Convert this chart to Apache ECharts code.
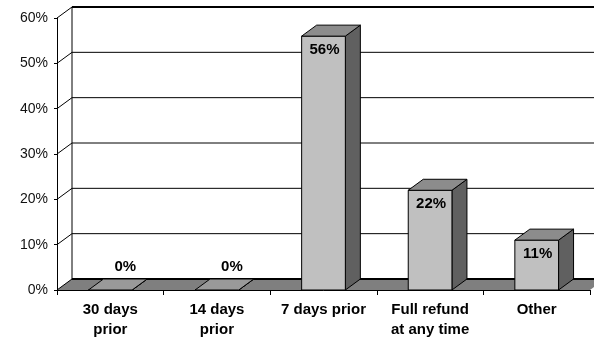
<!DOCTYPE html>
<html>
<head>
<meta charset="utf-8">
<script src="https://cdn.jsdelivr.net/npm/echarts@6/dist/echarts.min.js"></script>
<style>
  html, body { margin: 0; padding: 0; background: #ffffff; }
  #chart { width: 594px; height: 337px; }
</style>
</head>
<body>
<div id="chart"></div>
<script>
// Refund policy shares (percent of respondents)
const categories = ['30 days\nprior', '14 days\nprior', '7 days prior', 'Full refund\nat any time', 'Other'];
const shares = [0, 0, 56, 22, 11];
const yTicks = [0, 10, 20, 30, 40, 50, 60];

// oblique projection offset for the "depth" of the box
const DEPTH_X = 15;
const DEPTH_Y = -11;
const FONT = 'Arial, "Liberation Sans", Helvetica, sans-serif';

const chart = echarts.init(document.getElementById('chart'), null, { renderer: 'canvas' });

// back wall gridlines, their slanted connectors to the front axis, and the floor
function renderWall(params, api) {
  const v = api.value(1);
  const cs = params.coordSys;
  const left = cs.x;
  const right = cs.x + cs.width;
  const y = api.coord([0, v])[1];
  const children = [];

  if (params.dataIndex === 0) {
    const topY = api.coord([0, yTicks[yTicks.length - 1]])[1];
    children.push({
      type: 'polygon',
      shape: { points: [[left, y], [right, y], [right + DEPTH_X, y + DEPTH_Y], [left + DEPTH_X, y + DEPTH_Y]] },
      style: { fill: '#7f7f7f', stroke: null }
    });
    children.push({
      type: 'line',
      shape: { x1: left + DEPTH_X, y1: topY + DEPTH_Y, x2: left + DEPTH_X, y2: y + DEPTH_Y },
      style: { stroke: '#000', lineWidth: 1 }
    });
  }
  const thick = params.dataIndex === 0 || params.dataIndex === yTicks.length - 1;
  children.push({
    type: 'line',
    shape: { x1: left + DEPTH_X, y1: y + DEPTH_Y, x2: right + DEPTH_X, y2: y + DEPTH_Y },
    style: { stroke: '#000', lineWidth: thick ? 2 : 1 }
  });
  children.push({
    type: 'line',
    shape: { x1: left, y1: y, x2: left + DEPTH_X, y2: y + DEPTH_Y },
    style: { stroke: '#000', lineWidth: 1 }
  });
  return { type: 'group', children: children };
}

// 3D-looking columns: front face, top face, right side face and value label
function renderBar(params, api) {
  const idx = api.value(0);
  const v = api.value(1);
  const base = api.coord([idx, 0]);
  const top = api.coord([idx, v]);
  const band = api.size([1, 0])[0];
  const w = band * 0.41;
  const xl = base[0] - w / 2;
  const xr = base[0] + w / 2;
  const yb = base[1];
  const yt = top[1];
  const stroke = { stroke: '#000', lineWidth: 1 };
  const children = [
    {
      type: 'polygon',
      shape: { points: [[xr, yt], [xr, yb], [xr + DEPTH_X, yb + DEPTH_Y], [xr + DEPTH_X, yt + DEPTH_Y]] },
      style: Object.assign({ fill: '#606060' }, stroke)
    },
    {
      type: 'rect',
      shape: { x: xl, y: yt, width: w, height: yb - yt },
      style: Object.assign({ fill: '#c0c0c0' }, stroke)
    },
    {
      type: 'polygon',
      shape: { points: [[xl, yt], [xr, yt], [xr + DEPTH_X, yt + DEPTH_Y], [xl + DEPTH_X, yt + DEPTH_Y]] },
      style: Object.assign({ fill: v > 0 ? '#8c8c8c' : '#999999' }, stroke)
    }
  ];
  const lx = v > 0 ? base[0] + 1 : base[0] + DEPTH_X;
  const ly = v > 0 ? yt + 14 : yt - 23;
  children.push({
    type: 'text',
    x: lx,
    y: ly,
    style: {
      text: v + '%',
      fill: '#000',
      font: 'bold 15px ' + FONT,
      textAlign: 'center',
      textVerticalAlign: 'middle'
    }
  });
  return { type: 'group', children: children };
}

chart.setOption({
  animation: false,
  backgroundColor: '#ffffff',
  grid: { left: 57, right: 4, top: 18, bottom: 47, containLabel: false, outerBoundsMode: 'none' },
  xAxis: {
    type: 'category',
    data: categories,
    z: 10,
    axisLine: { show: true, lineStyle: { color: '#000', width: 1 } },
    axisTick: { show: true, length: 5, lineStyle: { color: '#000' } },
    axisLabel: {
      interval: 0,
      margin: 10,
      color: '#000',
      fontFamily: FONT,
      fontWeight: 'bold',
      fontSize: 15,
      lineHeight: 20
    },
    splitLine: { show: false }
  },
  yAxis: {
    type: 'value',
    min: 0,
    max: 60,
    interval: 10,
    z: 10,
    axisLine: { show: true, lineStyle: { color: '#000', width: 1 } },
    axisTick: { show: true, length: 3, lineStyle: { color: '#000' } },
    axisLabel: {
      formatter: '{value}%',
      margin: 9,
      color: '#111',
      fontFamily: FONT,
      fontSize: 14
    },
    splitLine: { show: false }
  },
  series: [
    {
      type: 'custom',
      name: 'wall',
      z: 1,
      silent: true,
      renderItem: renderWall,
      data: yTicks.map(function (t) { return [0, t]; })
    },
    {
      type: 'custom',
      name: 'share',
      z: 3,
      renderItem: renderBar,
      data: shares.map(function (s, i) { return [i, s]; })
    }
  ]
});
</script>
</body>
</html>
